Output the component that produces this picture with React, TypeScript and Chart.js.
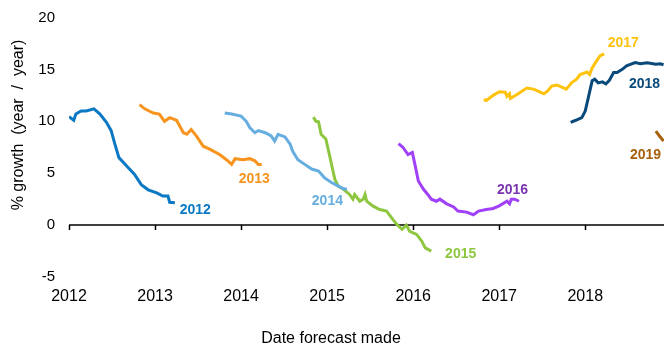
import React, { useEffect, useRef } from "react";
import { Chart, registerables } from "chart.js";
Chart.register(...registerables);

const FONT = '"Liberation Sans", Arial, sans-serif';

// ---- data (x = date forecast made as decimal year, y = % growth) ----
const f2012X = [2012.0, 2012.055, 2012.08, 2012.14, 2012.2, 2012.29, 2012.36, 2012.435, 2012.49, 2012.53, 2012.58, 2012.67, 2012.76, 2012.84, 2012.92, 2013.02, 2013.09, 2013.15, 2013.17, 2013.23];
const f2012Y = [10.45, 10.1, 10.7, 11.0, 11.0, 11.2, 10.7, 9.9, 9.1, 7.9, 6.5, 5.7, 4.9, 3.9, 3.4, 3.1, 2.8, 2.8, 2.2, 2.15];

const f2013X = [2012.82, 2012.88, 2012.98, 2013.05, 2013.11, 2013.17, 2013.25, 2013.33, 2013.37, 2013.42, 2013.48, 2013.56, 2013.64, 2013.75, 2013.83, 2013.89, 2013.93, 2014.02, 2014.1, 2014.16, 2014.2, 2014.24];
const f2013Y = [11.6, 11.2, 10.8, 10.7, 10.0, 10.35, 10.1, 8.9, 8.75, 9.2, 8.6, 7.6, 7.3, 6.8, 6.3, 5.85, 6.4, 6.3, 6.4, 6.2, 5.85, 5.85];

const f2014X = [2013.81, 2013.89, 2014.0, 2014.06, 2014.1, 2014.16, 2014.2, 2014.28, 2014.35, 2014.39, 2014.43, 2014.51, 2014.57, 2014.6, 2014.66, 2014.74, 2014.82, 2014.9, 2014.97, 2015.05, 2015.13, 2015.19, 2015.23];
const f2014Y = [10.8, 10.7, 10.5, 10.0, 9.4, 8.9, 9.1, 8.9, 8.6, 8.1, 8.75, 8.5, 7.8, 7.1, 6.3, 5.85, 5.4, 5.2, 4.55, 4.1, 3.75, 3.5, 3.45];

const f2015X = [2014.84, 2014.87, 2014.9, 2014.93, 2014.985, 2015.03, 2015.06, 2015.09, 2015.13, 2015.19, 2015.26, 2015.3, 2015.32, 2015.38, 2015.42, 2015.44, 2015.46, 2015.53, 2015.61, 2015.69, 2015.75, 2015.81, 2015.87, 2015.92, 2015.96, 2016.04, 2016.1, 2016.14, 2016.21];
const f2015Y = [10.4, 10.0, 9.95, 8.75, 8.3, 6.65, 5.5, 4.4, 3.75, 3.45, 2.95, 2.5, 2.95, 2.3, 2.5, 2.95, 2.3, 1.85, 1.5, 1.35, 0.7, 0.07, -0.4, 0.0, -0.6, -0.9, -1.55, -2.2, -2.5];

const f2016X = [2015.83, 2015.88, 2015.94, 2015.99, 2016.02, 2016.06, 2016.12, 2016.17, 2016.21, 2016.27, 2016.31, 2016.39, 2016.47, 2016.52, 2016.62, 2016.7, 2016.76, 2016.85, 2016.93, 2017.0, 2017.09, 2017.12, 2017.14, 2017.18, 2017.23];
const f2016Y = [7.85, 7.5, 6.8, 7.0, 5.85, 4.25, 3.45, 2.95, 2.5, 2.3, 2.5, 2.05, 1.75, 1.35, 1.25, 1.0, 1.35, 1.5, 1.6, 1.85, 2.3, 2.05, 2.5, 2.5, 2.3];

const f2017X = [2016.82, 2016.85, 2016.93, 2017.0, 2017.07, 2017.09, 2017.12, 2017.13, 2017.22, 2017.32, 2017.4, 2017.45, 2017.52, 2017.56, 2017.61, 2017.67, 2017.74, 2017.78, 2017.84, 2017.9, 2017.94, 2018.02, 2018.05, 2018.08, 2018.13, 2018.17, 2018.22];
const f2017Y = [12.1, 12.0, 12.5, 12.85, 12.8, 12.4, 12.65, 12.2, 12.65, 13.2, 13.1, 12.9, 12.65, 12.9, 13.4, 13.5, 13.25, 13.1, 13.7, 14.05, 14.5, 14.75, 14.5, 15.15, 15.8, 16.3, 16.5];

const f2018X = [2017.83, 2017.89, 2017.96, 2018.0, 2018.04, 2018.08, 2018.11, 2018.15, 2018.2, 2018.24, 2018.28, 2018.33, 2018.37, 2018.43, 2018.48, 2018.58, 2018.64, 2018.72, 2018.82, 2018.87, 2018.91];
const f2018Y = [9.9, 10.1, 10.35, 11.0, 12.45, 13.9, 14.05, 13.7, 13.8, 13.6, 13.95, 14.7, 14.7, 15.0, 15.35, 15.65, 15.55, 15.65, 15.5, 15.55, 15.45];

const f2019X = [2018.82, 2018.86, 2018.91];
const f2019Y = [9.05, 8.6, 8.1];

const seriesNames = ["2012", "2013", "2014", "2015", "2016", "2017", "2018", "2019"];
const seriesX = [f2012X, f2013X, f2014X, f2015X, f2016X, f2017X, f2018X, f2019X];
const seriesY = [f2012Y, f2013Y, f2014Y, f2015Y, f2016Y, f2017Y, f2018Y, f2019Y];
const lineColors = ["#0B78C4", "#F7941E", "#66ADE0", "#8DC63F", "#A040F8", "#FFC20E", "#0A4A7A", "#A8600F"];
const labelColors = ["#0B78C4", "#F7941E", "#66ADE0", "#8DC63F", "#7A35B0", "#FFC20E", "#0A4A7A", "#A8600F"];
// label anchors (data coords: year, value) — left/middle of text
const labelAtX = [2013.287, 2013.973, 2014.822, 2016.371, 2016.973, 2018.26, 2018.508, 2018.52];
const labelAtY = [1.45, 4.44, 2.31, -2.8, 3.38, 17.55, 13.6, 6.75];

const xTickYears = [2012, 2013, 2014, 2015, 2016, 2017, 2018];
const xMin = 2012;
const xMax = 2018.915;
const yMin = -5;
const yMax = 20;

const yTitle = "% growth  (year  /  year)";
const xTitle = "Date forecast made";

const overlay = {
  id: "overlay",
  beforeDatasetsDraw(chart: any) {
    const { ctx, chartArea, scales } = chart;
    const xs = scales.x;
    const ys = scales.y;
    const y0 = ys.getPixelForValue(0);
    ctx.save();
    ctx.strokeStyle = "#000";
    ctx.lineWidth = 1.5;
    ctx.beginPath();
    ctx.moveTo(chartArea.left, y0);
    ctx.lineTo(chartArea.right, y0);
    for (const t of xTickYears) {
      const px = Math.round(xs.getPixelForValue(t)) + 0.5;
      ctx.moveTo(px, y0);
      ctx.lineTo(px, y0 + 5);
    }
    ctx.stroke();
    ctx.restore();
  },
  afterDatasetsDraw(chart: any) {
    const { ctx, scales } = chart;
    const xs = scales.x;
    const ys = scales.y;
    ctx.save();
    ctx.font = `bold 14px ${FONT}`;
    ctx.textAlign = "left";
    ctx.textBaseline = "middle";
    seriesNames.forEach((name, i) => {
      ctx.fillStyle = labelColors[i];
      ctx.fillText(name, xs.getPixelForValue(labelAtX[i]), ys.getPixelForValue(labelAtY[i]));
    });
    ctx.fillStyle = "#000";
    ctx.font = `16px ${FONT}`;
    ctx.textAlign = "center";
    ctx.fillText(xTitle, 331, 339);
    ctx.translate(19, 125);
    ctx.rotate(-Math.PI / 2);
    ctx.fillText(yTitle, 0, 0);
    ctx.restore();
  },
};

export default function App() {
  const ref = useRef<HTMLCanvasElement>(null);
  useEffect(() => {
    document.body.style.margin = "0";
    Chart.defaults.font.family = FONT;
    Chart.defaults.color = "#000";
    const datasets = seriesNames.map((name, i) => ({
      label: name,
      data: seriesX[i].map((x, j) => ({ x, y: seriesY[i][j] })),
      borderColor: lineColors[i],
      backgroundColor: lineColors[i],
      borderWidth: 3,
      pointRadius: 0,
      tension: 0,
      fill: false,
    }));
    const chart = new Chart(ref.current!, {
      type: "line",
      data: { datasets },
      plugins: [overlay],
      options: {
        animation: false,
        responsive: false,
        layout: { padding: { top: 17.5, right: 7, bottom: 0, left: 0 } },
        plugins: { legend: { display: false }, tooltip: { enabled: false } },
        scales: {
          x: {
            type: "linear",
            min: xMin,
            max: xMax,
            grid: { display: false, drawTicks: false },
            border: { display: false },
            afterBuildTicks: (scale: any) => {
              scale.ticks = xTickYears.map((v) => ({ value: v }));
            },
            afterFit: (scale: any) => {
              scale.height = 82;
              scale.paddingLeft = 0;
              scale.paddingRight = 0;
            },
            ticks: {
              padding: 10,
              maxRotation: 0,
              autoSkip: false,
              font: { size: 16 },
              callback: (v: any) => String(v),
            },
          },
          y: {
            type: "linear",
            min: yMin,
            max: yMax,
            grid: { display: false, drawTicks: false },
            border: { display: false },
            afterFit: (scale: any) => {
              scale.width = 69;
              scale.paddingTop = 0;
              scale.paddingBottom = 0;
            },
            ticks: { stepSize: 5, padding: 14, font: { size: 15 } },
          },
        },
      },
    });
    return () => chart.destroy();
  }, []);
  return (
    <div style={{ width: 671, height: 359 }}>
      <canvas ref={ref} width={671} height={359} />
    </div>
  );
}
